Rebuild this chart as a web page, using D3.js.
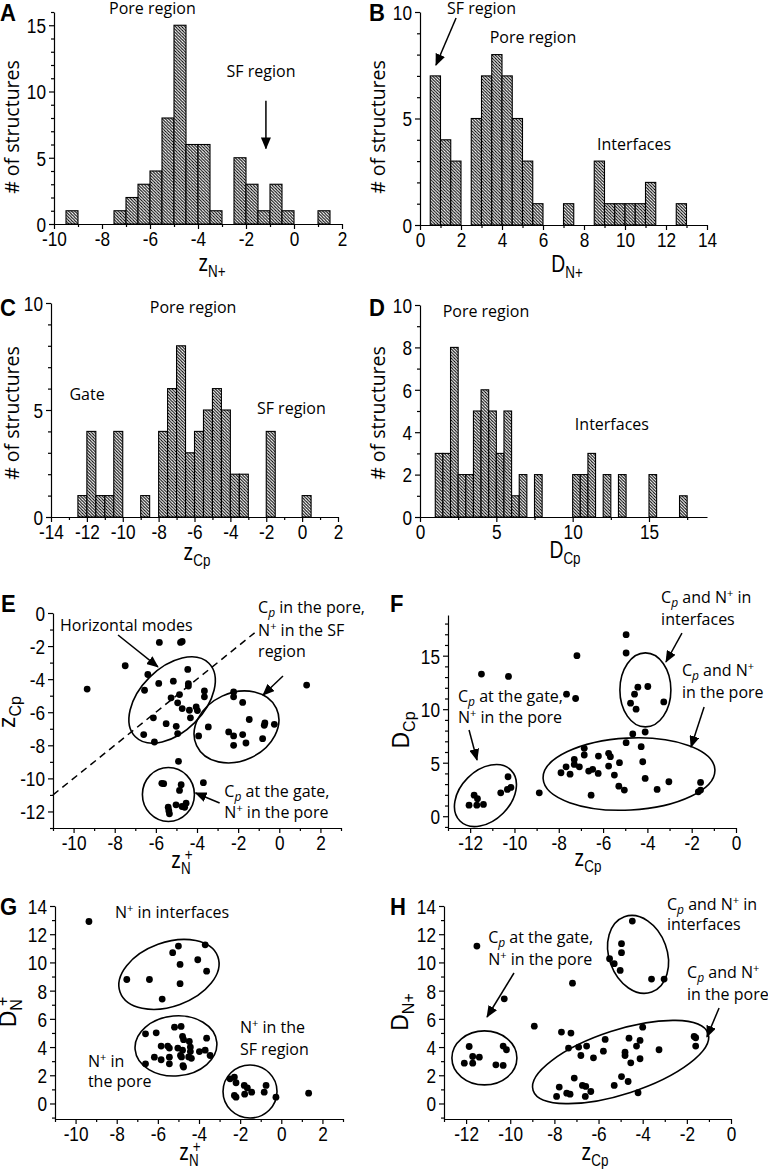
<!DOCTYPE html>
<html><head><meta charset="utf-8">
<script src="https://cdn.jsdelivr.net/npm/d3@7"></script>
<style>body{margin:0;background:#fff}svg{display:block}</style>
</head><body>
<script>
// ---------------- DATA ----------------
const binWidth = 0.5;
// A: z_N+ histogram (bin lower edges, counts)
const zNBins   = [-9.5, -7.5, -7, -6.5, -6, -5.5, -5, -4.5, -4, -3.5, -2.5, -2, -1.5, -1, -0.5, 1];
const zNCounts = [1, 1, 2, 3, 4, 8, 15, 6, 6, 1, 5, 3, 1, 3, 1, 1];
// B: D_N+ histogram
const dNBins   = [0.5, 1, 1.5, 2.5, 3, 3.5, 4, 4.5, 5, 5.5, 7, 8.5, 9, 9.5, 10, 10.5, 11, 12.5];
const dNCounts = [7, 4, 3, 5, 7, 8, 7, 5, 3, 1, 1, 3, 1, 1, 1, 1, 2, 1];
// C: z_Cp histogram
const zCpBins   = [-12.5, -12, -11.5, -11, -10.5, -9, -8, -7.5, -7, -6.5, -6, -5.5, -5, -4.5, -4, -3.5, -2, 0];
const zCpCounts = [1, 4, 1, 1, 4, 1, 4, 6, 8, 3, 4, 5, 6, 5, 2, 2, 4, 1];
// D: D_Cp histogram
const dCpBins   = [1, 1.5, 2, 2.5, 3, 3.5, 4, 4.5, 5, 5.5, 6, 6.5, 7.5, 10, 10.5, 11, 12, 13, 15, 17];
const dCpCounts = [3, 3, 8, 2, 2, 5, 6, 5, 3, 5, 1, 2, 2, 2, 2, 3, 2, 2, 2, 1];

// E: (z_N+, z_Cp)
const pointsE = [[-9.34,-4.6],[-7.49,-3.19],[-5.83,-1.78],[-4.8,-1.78],[-4.72,-1.72],[-6.39,-3.72],[-6.55,-4.67],[-5.86,-4.26],[-5.15,-4.12],[-4.45,-3.41],[-4.42,-4.27],[-4.42,-4.42],[-4.85,-4.93],[-5.26,-5.13],[-4.94,-5.43],[-4.72,-5.78],[-4.04,-5.68],[-4.37,-5.88],[-3.98,-5.9],[-4.32,-6.34],[-6.12,-6.34],[-5.5,-6.69],[-5.01,-6.85],[-4.94,-7.29],[-6.59,-7.35],[-6.07,-7.8],[-3.64,-5.07],[-3.64,-4.71],[-3.92,-7.43],[-3.45,-6.89],
  [-2.22,-4.77],[-2.22,-5.07],[-1.78,-5.41],[-1.46,-6.44],[-0.73,-6.79],[-0.7,-6.65],[-0.24,-6.73],[-2.46,-7.19],[-2.22,-7.43],[-1.78,-7.35],[-2.22,-8.0],[-1.62,-7.86],[-0.81,-7.6],
  [1.33,-4.36],
  [-4.9,-8.97],[-5.71,-10.3],[-5.62,-10.32],[-4.77,-10.38],[-4.85,-10.73],[-3.69,-10.26],[-5.4,-11.74],[-5.37,-11.95],[-5.34,-12.14],[-5.02,-11.6],[-4.73,-11.7],[-4.53,-11.5],[-4.6,-11.75]];
// F: (z_Cp, D_Cp)
const pointsF = [[-11.49,13.28],[-10.27,13.06],[-7.18,15.0],[-7.65,11.4],[-7.24,11.0],[-4.96,16.96],[-4.96,15.25],[-4.43,12.06],[-3.98,12.12],[-4.58,11.4],[-4.76,10.56],[-4.51,10.0],[-3.26,10.68],[-4.66,7.68],[-4.1,7.87],[-4.96,6.87],[-4.28,6.5],[-4.21,5.09],[-4.1,3.53],[-3.03,3.22],[-1.6,3.16],[-1.7,2.28],[-1.6,2.44],
  [-6.85,6.34],[-6.85,5.72],[-7.3,5.31],[-7.3,4.84],[-7.67,4.62],[-7.49,3.93],[-7.9,4.06],[-7.07,4.62],[-6.65,4.22],[-6.47,4.38],[-6.22,4.0],[-6.21,5.62],[-5.75,5.88],[-5.67,5.56],[-5.75,4.69],[-5.26,5.0],[-5.49,3.84],[-5.29,2.81],[-5.04,2.44],[-3.56,2.5],[-6.54,1.97],[-8.88,2.19],
  [-10.62,2.19],[-10.32,2.5],[-10.16,2.69],[-10.29,3.69],[-11.82,1.97],[-11.67,1.64],[-12.05,1.03],[-11.7,1.03],[-11.4,1.1]];
// G: (z_N+, D_N+)
const pointsG = [[-9.35,12.9],[-7.51,8.79],[-6.41,8.79],[-5.79,7.4],[-4.92,8.49],[-4.92,9.86],[-5.28,10.69],[-5.0,11.16],[-3.7,11.25],[-4.06,10.19],[-3.63,9.38],
  [-6.6,4.94],[-6.08,5.01],[-5.19,5.41],[-4.87,5.46],[-4.8,4.75],[-4.75,4.52],[-4.47,4.4],[-3.63,4.63],[-5.84,4.07],[-5.52,4.07],[-5.44,3.93],[-5.03,3.93],[-4.8,3.78],[-4.42,4.0],[-4.42,3.68],[-3.98,3.68],[-3.7,3.78],[-3.46,3.4],[-4.9,3.4],[-4.85,3.3],[-4.5,3.3],[-4.37,3.2],[-6.17,3.28],[-5.84,3.1],[-5.44,3.28],[-6.6,2.81],[-5.44,2.81],[-4.78,2.69],[-4.75,2.58],
  [-2.49,1.75],[-2.28,1.87],[-2.2,1.47],[-2.28,0.57],[-2.2,0.45],[-1.8,1.28],[-1.65,1.1],[-1.44,0.8],[-1.78,0.66],[-0.74,1.28],[-0.83,0.8],[-0.26,0.45],[1.33,0.73]];
// H: (z_Cp, D_N+)
const pointsH = [[-11.51,11.16],[-10.27,7.42],[-7.18,8.53],[-8.91,5.48],[-4.47,12.93],[-4.96,11.33],[-4.96,10.69],[-5.5,10.26],[-5.29,9.91],[-5.02,9.43],[-3.6,8.82],[-3.03,8.82],
  [-7.68,5.06],[-7.25,4.99],[-4.0,5.41],[-5.7,4.54],[-4.62,4.63],[-4.12,4.47],[-4.28,4.07],[-3.26,3.81],[-7.36,3.93],[-6.9,4.0],[-6.8,3.4],[-6.54,4.07],[-6.23,3.24],[-5.78,3.71],[-4.8,3.64],[-4.8,3.4],[-4.54,2.88],[-4.12,3.17],[-1.67,4.75],[-1.6,4.66],[-1.6,4.07],[-7.1,1.8],[-7.78,1.16],[-7.44,0.73],[-7.29,0.66],[-6.73,1.28],[-6.58,1.21],[-6.35,0.85],[-7.9,0.5],[-6.6,0.5],[-5.29,1.28],[-4.96,1.91],[-4.66,1.56],[-4.21,0.76],
  [-11.86,4.04],[-12.08,2.86],[-11.7,3.33],[-11.7,2.86],[-11.4,3.28],[-10.65,2.74],[-10.32,2.7],[-10.32,4.07],[-10.17,3.81]];

// Tick values
const ticksA_x = [-10,-8,-6,-4,-2,0,2],   ticksA_y = [0,5,10,15];
const ticksB_x = [0,2,4,6,8,10,12,14],    ticksB_y = [0,5,10];
const ticksC_x = [-14,-12,-10,-8,-6,-4,-2,0,2], ticksC_y = [0,5,10];
const ticksD_x = [0,5,10,15],             ticksD_y = [0,2,4,6,8,10];
const ticksE_x = [-10,-8,-6,-4,-2,0,2],   ticksE_y = [0,-2,-4,-6,-8,-10,-12];
const ticksF_x = [-12,-10,-8,-6,-4,-2,0], ticksF_y = [0,5,10,15];
const ticksG_x = [-10,-8,-6,-4,-2,0,2],   ticksG_y = [0,2,4,6,8,10,12,14];
const ticksH_x = [-12,-10,-8,-6,-4,-2,0], ticksH_y = [0,2,4,6,8,10,12,14];

// Annotation texts (data coordinates) and arrows [x1,y1,x2,y2]
const annA = [['Pore region',-5.9,15.85,'middle'],['SF region',-1.375,11.1,'middle']];
const arrA = [[-1.17,9.3,-1.17,5.7]];
const annB = [['SF region',3.0,9.9,'middle'],['Pore region',5.51,8.54,'middle'],['Interfaces',10.44,3.52,'middle']];
const arrB = [[1.76,9.72,0.78,7.51]];
const annC = [['Pore region',-6.08,9.53,'middle'],['Gate',-11.99,5.47,'middle'],['SF region',-0.6,4.79,'middle']];
const annD = [['Pore region',4.32,9.43,'middle'],['Interfaces',12.57,4.1,'middle']];
const annE = [['Horizontal modes',-10.66,-1.09],['C_i{p} in the pore,',-1.03,0.0],['N^{+} in the SF',-1.03,-1.39],['region',-1.03,-2.66],['C_i{p} at the gate,',-2.67,-11.12],['N^{+} in the pore',-2.67,-12.39]];
const arrE = [[-7.84,-1.33,-5.9,-3.26],[0.18,-3.81,-0.79,-4.96],[-2.9,-11.49,-4.07,-10.88]];
const annF = [['C_i{p} and N^{+} in',-3.38,19.93],['interfaces',-3.38,17.87],['C_i{p} and N^{+}',-2.44,13.1],['in the pore',-2.44,11.05],['C_i{p} at the gate,',-12.55,10.67],['N^{+} in the pore',-12.55,8.71]];
const arrF = [[-2.44,17.1,-3.16,14.41],[-1.44,10.2,-2.03,6.47],[-12.05,8.06,-11.69,5.25]];
const annG = [['N^{+} in interfaces',-8.08,13.15],['N^{+} in the',-2.01,5.0],['SF region',-2.01,3.44],['N^{+} in',-9.4,2.59],['the pore',-9.4,1.17]];
const annH = [['C_i{p} and N^{+} in',-2.9,13.72],['interfaces',-2.9,12.3],['C_i{p} at the gate,',-11.0,11.38],['N^{+} in the pore',-11.0,9.82],['C_i{p} and N^{+}',-1.99,8.9],['in the pore',-1.99,7.34]];
const arrH = [[-9.83,9.25,-11.05,6.13],[-0.54,6.77,-1.09,4.72]];
// Cluster ellipse centres (data coordinates)
const ellE = [[-5.21,-5.26],[-2.08,-6.89],[-5.39,-10.97]];
const ellF = [[-11.31,1.93],[-4.83,3.94],[-4.09,11.8]];
const ellG = [[-5.46,9.15],[-5.12,4.08],[-1.52,0.85]];
const ellH = [[-11.17,3.23],[-5.0,2.94],[-4.21,10.57]];
// dashed diagonal in E (z_Cp = z_N+)
const diagE = [[-11,-11],[-1.2,-1.2]];

// ---------------- DRAWING ----------------
const TICK = "'Liberation Sans', Arial, Helvetica, sans-serif";
const ANNO = "'Open Sans', 'Noto Sans', sans-serif";
const SX = 0.84;

const svg = d3.select('body').append('svg').attr('width',768).attr('height',1170);
svg.append('rect').attr('width',768).attr('height',1170).attr('fill','#fff');
const defs = svg.append('defs');
const s = 3.1;
const pat = defs.append('pattern').attr('id','hatch').attr('patternUnits','userSpaceOnUse').attr('width',s).attr('height',s);
pat.append('rect').attr('width',s).attr('height',s).attr('fill','#fff');
pat.append('path').attr('d',`M0,0 L${s},${s} M-1,${s-1} L1,${s+1} M${s-1},-1 L${s+1},1`).attr('stroke','#000').attr('stroke-width',1);
defs.append('marker').attr('id','arrow').attr('viewBox','0 0 12 10').attr('refX',11).attr('refY',5)
  .attr('markerWidth',12).attr('markerHeight',10).attr('markerUnits','userSpaceOnUse').attr('orient','auto')
  .append('path').attr('d','M0,0 L12,5 L0,10 z').attr('fill','#000');

function steps(a,b,st){ return d3.range(Math.round((b-a)/st)+1).map(i=>+(a+i*st).toFixed(4)); }

function rich(parent, x, y, str, o){
  const t = parent.append('text').attr('x',x).attr('y',y)
    .attr('font-family',o.family).attr('font-size',o.size)
    .attr('text-anchor',o.anchor||'start').attr('fill','#000');
  const parts = str.split(/(_i?\{[^}]*\}|\^s?\{[^}]*\})/).filter(p=>p.length);
  let shift = 0;
  for (const p of parts){
    let m;
    if ((m = p.match(/^_(i?)\{(.*)\}$/))){
      const ts = t.append('tspan').attr('dy',o.subDy-shift).attr('font-size',o.subSize).text(m[2]);
      if (m[1]) ts.attr('font-style','italic');
      shift = o.subDy;
    } else if ((m = p.match(/^\^(s?)\{(.*)\}$/))){
      const ts = t.append('tspan').attr('dy',o.supDy-shift).attr('font-size',o.supSize||o.subSize).text(m[2]);
      if (m[1]) ts.attr('dx',o.stackDx);
      shift = o.supDy;
    } else {
      t.append('tspan').attr('dy',-shift).text(p);
      shift = 0;
    }
  }
  return t;
}

const annoOpt = {family:ANNO,size:16,subSize:12,subDy:4,supDy:-6,supSize:11};
const titleOpt = {family:TICK,size:23,subSize:16,subDy:6,supDy:-8,stackDx:-7};

function panel(cfg){
  const g = svg.append('g');
  const x = d3.scaleLinear().domain(cfg.xDomain).range(cfg.xRange);
  const y = d3.scaleLinear().domain(cfg.yDomain).range(cfg.yRange);
  return {g,x,y,cfg};
}

function axes(P){
  const {g,x,y,cfg} = P;
  const y0 = cfg.yRange[0], x0 = cfg.xRange[0];
  const xmin = cfg.xMinor.filter(v=>!cfg.xMajor.includes(v));
  const ymin = cfg.yMinor.filter(v=>!cfg.yMajor.includes(v));
  g.append('g').attr('transform',`translate(0,${y0})`)
    .call(d3.axisBottom(x).tickValues(xmin).tickSize(3).tickSizeOuter(0).tickFormat(''))
    .call(a=>a.select('.domain').remove());
  g.append('g').attr('transform',`translate(${x0},0)`)
    .call(d3.axisLeft(y).tickValues(ymin).tickSize(3).tickSizeOuter(0).tickFormat(''))
    .call(a=>a.select('.domain').remove());
  const ax = g.append('g').attr('transform',`translate(0,${y0})`)
    .call(d3.axisBottom(x).tickValues(cfg.xMajor).tickSize(5).tickPadding(2).tickSizeOuter(0).tickFormat(d=>String(d)));
  const ay = g.append('g').attr('transform',`translate(${x0},0)`)
    .call(d3.axisLeft(y).tickValues(cfg.yMajor).tickSize(5).tickPadding(3).tickSizeOuter(0).tickFormat(d=>String(d)));
  [ax,ay].forEach(a=>a.attr('font-family',TICK).attr('font-size',20.5));
  ax.selectAll('.tick text').attr('fill','#000').attr('transform',`scale(${SX},1)`);
  ay.selectAll('.tick text').attr('fill','#000').attr('x',-8/SX).attr('dy','0.36em').attr('transform',`scale(${SX},1)`);
  g.selectAll('.domain, .tick line').attr('stroke','#000').attr('stroke-width',1.2);
}

function xTitle(P, str, cx, by){
  const gg = P.g.append('g').attr('transform',`translate(${cx},${by}) scale(${SX},1)`);
  rich(gg,0,0,str,Object.assign({},titleOpt,{anchor:'middle'}));
}
function yTitle(P, str, bx, cy, opt){
  const gg = P.g.append('g').attr('transform',`translate(${bx},${cy}) rotate(-90)`);
  rich(gg,0,0,str,Object.assign({},opt||titleOpt,{anchor:'middle'}));
}
function letter(ch, x, y){
  svg.append('text').attr('transform',`translate(${x},${y}) scale(0.92,1)`)
    .attr('font-family',TICK).attr('font-weight','bold').attr('font-size',24).attr('fill','#000').text(ch);
}
function bars(P, bins, counts){
  const {g,x,y} = P;
  g.append('g').selectAll('rect').data(d3.zip(bins,counts)).join('rect')
    .attr('x',d=>x(d[0])).attr('width',d=>x(d[0]+binWidth)-x(d[0]))
    .attr('y',d=>y(d[1])).attr('height',d=>y(0)-y(d[1]))
    .attr('fill','url(#hatch)').attr('stroke','#000').attr('stroke-width',1.1);
}
function dots(P, pts){
  const {g,x,y} = P;
  g.append('g').selectAll('circle').data(pts).join('circle')
    .attr('cx',d=>x(d[0])).attr('cy',d=>y(d[1])).attr('r',3.4).attr('fill','#000');
}
function annots(P, list){
  list.forEach(a=>rich(P.g,P.x(a[1]),P.y(a[2]),a[0],Object.assign({},annoOpt,{anchor:a[3]||'start'})));
}
function arrows(P, list){
  P.g.append('g').selectAll('line').data(list).join('line')
    .attr('x1',d=>P.x(d[0])).attr('y1',d=>P.y(d[1])).attr('x2',d=>P.x(d[2])).attr('y2',d=>P.y(d[3]))
    .attr('stroke','#000').attr('stroke-width',1.5).attr('marker-end','url(#arrow)');
}
function ellipses(P, centres, shapes){
  P.g.append('g').selectAll('ellipse').data(d3.zip(centres,shapes)).join('ellipse')
    .attr('cx',d=>P.x(d[0][0])).attr('cy',d=>P.y(d[0][1]))
    .attr('rx',d=>d[1][0]).attr('ry',d=>d[1][1])
    .attr('transform',d=>`rotate(${d[1][2]},${P.x(d[0][0])},${P.y(d[0][1])})`)
    .attr('fill','none').attr('stroke','#000').attr('stroke-width',1.6);
}
function structTitle(P, bx, cy){
  P.g.append('text').attr('transform',`translate(${bx},${cy}) rotate(-90)`)
    .attr('text-anchor','middle').attr('font-family',ANNO).attr('font-size',19.5).attr('fill','#000').text('# of structures');
}

// ---- A ----
const A = panel({xDomain:[-10,2],xRange:[54,342],yDomain:[0,16],yRange:[224,12],
  xMajor:ticksA_x,xMinor:steps(-10,2,1),yMajor:ticksA_y,yMinor:steps(0,16,1)});
bars(A,zNBins,zNCounts); axes(A); annots(A,annA); arrows(A,arrA);
xTitle(A,'z_{N+}',212,271); structTitle(A,19,127); letter('A',0,21);

// ---- B ----
const B = panel({xDomain:[0,14],xRange:[420,707],yDomain:[0,10],yRange:[225,12],
  xMajor:ticksB_x,xMinor:steps(0,14,1),yMajor:ticksB_y,yMinor:steps(0,10,1)});
bars(B,dNBins,dNCounts); axes(B); annots(B,annB); arrows(B,arrB);
xTitle(B,'D_{N+}',567,272); structTitle(B,385,127); letter('B',369,21);

// ---- C ----
const C = panel({xDomain:[-14,2],xRange:[51,338],yDomain:[0,10],yRange:[517,303],
  xMajor:ticksC_x,xMinor:steps(-14,2,1),yMajor:ticksC_y,yMinor:steps(0,10,1)});
bars(C,zCpBins,zCpCounts); axes(C); annots(C,annC);
xTitle(C,'z_{Cp}',197,560); structTitle(C,19,413); letter('C',0,316);

// ---- D ----
const D = panel({xDomain:[0,18.8],xRange:[420,707],yDomain:[0,10],yRange:[517,305],
  xMajor:ticksD_x,xMinor:steps(0,17.5,2.5),yMajor:ticksD_y,yMinor:steps(0,10,1)});
bars(D,dCpBins,dCpCounts); axes(D); annots(D,annD);
xTitle(D,'D_{Cp}',565,558); structTitle(D,385,413); letter('D',369,316);

// ---- E ----
const E = panel({xDomain:[-11,3],xRange:[53,341],yDomain:[-13,0],yRange:[828,613],
  xMajor:ticksE_x,xMinor:steps(-11,3,1),yMajor:ticksE_y,yMinor:steps(-13,0,1)});
E.g.append('path').datum(diagE).attr('d',d3.line().x(d=>E.x(d[0])).y(d=>E.y(d[1])))
  .attr('fill','none').attr('stroke','#000').attr('stroke-width',1.5).attr('stroke-dasharray','7,5');
dots(E,pointsE); ellipses(E,ellE,[[52,32,-45],[44,34,-25],[26,27,0]]);
axes(E); annots(E,annE); arrows(E,arrE);
xTitle(E,'z_{N}^s{+}',182,868); yTitle(E,'z_{Cp}',15,712); letter('E',1,612);

// ---- F ----
const F = panel({xDomain:[-13,0],xRange:[448,736],yDomain:[-1.1,18.8],yRange:[828,615],
  xMajor:ticksF_x,xMinor:steps(-13,0,1),yMajor:ticksF_y,yMinor:steps(-1,18,1)});
dots(F,pointsF); ellipses(F,ellF,[[36,25,-45],[86,36,-3],[25.5,37,0]]);
axes(F); annots(F,annF); arrows(F,arrF);
xTitle(F,'z_{Cp}',588,866); yTitle(F,'D_{Cp}',409,730); letter('F',390,612);

// ---- G ----
const G = panel({xDomain:[-11,3],xRange:[55,343],yDomain:[-1.1,14],yRange:[1119,906],
  xMajor:ticksG_x,xMinor:steps(-11,3,1),yMajor:ticksG_y,yMinor:steps(-1,14,1)});
dots(G,pointsG); ellipses(G,ellG,[[52,32,-20],[41,30,-5],[27,26.5,0]]);
axes(G); annots(G,annG);
xTitle(G,'z_{N}^s{+}',190,1160); yTitle(G,'D_{N}^s{+}',16,1012); letter('G',0,915);

// ---- H ----
const Hp = panel({xDomain:[-13,0],xRange:[444,731],yDomain:[-1.1,14],yRange:[1119,906],
  xMajor:ticksH_x,xMinor:steps(-13,0,1),yMajor:ticksH_y,yMinor:steps(-1,14,1)});
dots(Hp,pointsH); ellipses(Hp,ellH,[[32.5,27,0],[92,32,-18],[29,40,-20]]);
axes(Hp); annots(Hp,annH); arrows(Hp,arrH);
xTitle(Hp,'z_{Cp}',595,1160); yTitle(Hp,'D_{N+}',408,1012); letter('H',390,915);
</script>
</body></html>
